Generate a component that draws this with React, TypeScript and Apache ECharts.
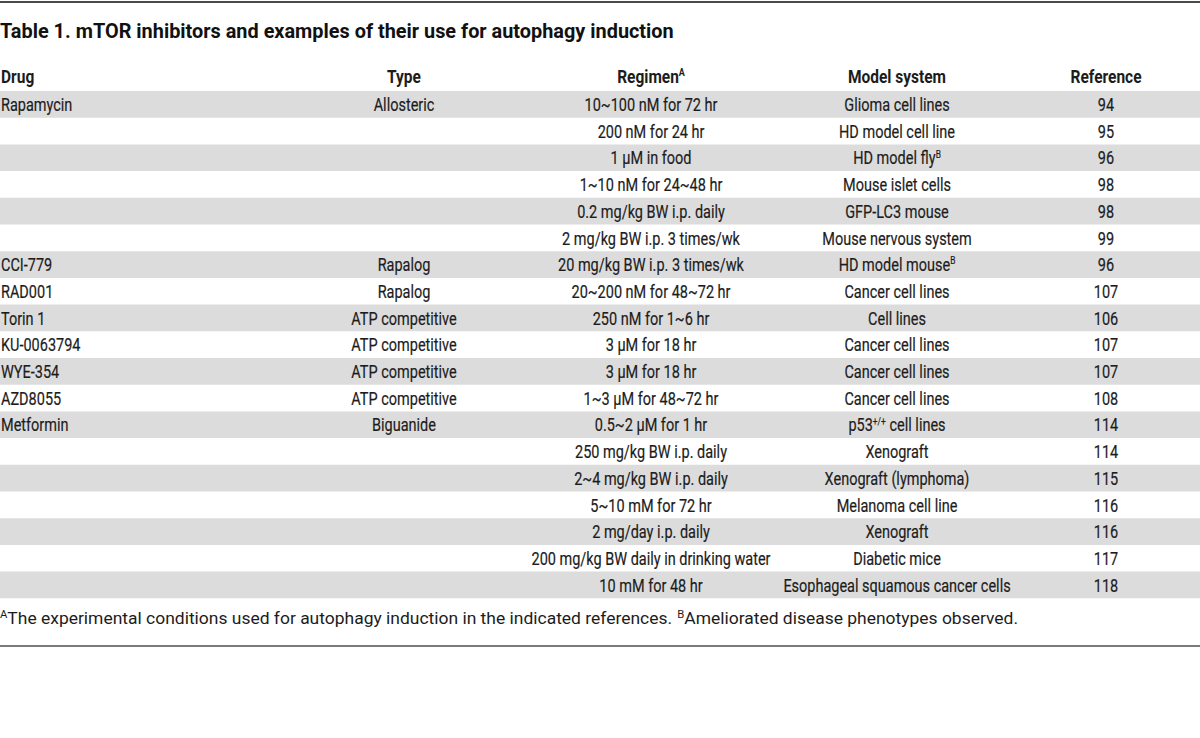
import React, { useEffect, useRef } from "react";
import * as echarts from "echarts";

const title = "Table 1. mTOR inhibitors and examples of their use for autophagy induction";
const headers = ["Drug", "Type", "Regimen^A", "Model system", "Reference"];
const drugs = ["Rapamycin", "", "", "", "", "", "CCI-779", "RAD001", "Torin 1", "KU-0063794", "WYE-354", "AZD8055", "Metformin", "", "", "", "", "", ""];
const types = ["Allosteric", "", "", "", "", "", "Rapalog", "Rapalog", "ATP competitive", "ATP competitive", "ATP competitive", "ATP competitive", "Biguanide", "", "", "", "", "", ""];
const regimens = [
  "10~100 nM for 72 hr",
  "200 nM for 24 hr",
  "1 μM in food",
  "1~10 nM for 24~48 hr",
  "0.2 mg/kg BW i.p. daily",
  "2 mg/kg BW i.p. 3 times/wk",
  "20 mg/kg BW i.p. 3 times/wk",
  "20~200 nM for 48~72 hr",
  "250 nM for 1~6 hr",
  "3 μM for 18 hr",
  "3 μM for 18 hr",
  "1~3 μM for 48~72 hr",
  "0.5~2 μM for 1 hr",
  "250 mg/kg BW i.p. daily",
  "2~4 mg/kg BW i.p. daily",
  "5~10 mM for 72 hr",
  "2 mg/day i.p. daily",
  "200 mg/kg BW daily in drinking water",
  "10 mM for 48 hr",
];
const models = [
  "Glioma cell lines",
  "HD model cell line",
  "HD model fly^B",
  "Mouse islet cells",
  "GFP-LC3 mouse",
  "Mouse nervous system",
  "HD model mouse^B",
  "Cancer cell lines",
  "Cell lines",
  "Cancer cell lines",
  "Cancer cell lines",
  "Cancer cell lines",
  "p53^+/+ cell lines",
  "Xenograft",
  "Xenograft (lymphoma)",
  "Melanoma cell line",
  "Xenograft",
  "Diabetic mice",
  "Esophageal squamous cancer cells",
];
const references = ["94", "95", "96", "98", "98", "99", "96", "107", "106", "107", "107", "108", "114", "114", "115", "116", "116", "117", "118"];
const footnote = "^AThe experimental conditions used for autophagy induction in the indicated references. ^BAmeliorated disease phenotypes observed.";

const toRich = (s: string) => s.replace(/\^([^\s]+?)(?=\s|$|[A-Z][a-z])/g, "{s|$1}");
const plain = (s: string) => s.replace(/\^([^\s]+?)(?=\s|$|[A-Z][a-z])/g, "");

function measure(text: string, font: string) {
  const c = document.createElement("canvas").getContext("2d")!;
  c.font = font;
  return c.measureText(text).width;
}

export default function App() {
  const ref = useRef<HTMLDivElement>(null);
  useEffect(() => {
    document.body.style.margin = "0";
    const chart = echarts.init(ref.current!, null, { renderer: "svg" });
    const W = 1200;
    const rowTop = 91;
    const rowH = 26.7;
    const colX = [1, 404, 651, 897, 1106];
    const font = "Roboto, 'Noto Sans', sans-serif";
    const textColor = "#1c1c1c";
    const bodySize = 19;
    const titleSize = 20;
    const footSize = 17;
    const bf = `${bodySize}px ${font}`;
    const bodyScale =
      (221 / measure("Esophageal squamous cancer cells", bf) + 246 / measure("200 mg/kg BW daily in drinking water", bf)) / 2;
    const headScale = 98 / measure("Model system", `bold ${bodySize}px ${font}`);
    const titleScale = 674 / measure(title, `bold ${titleSize}px ${font}`);
    const footScale = 1004 / measure(plain(footnote), `${footSize}px ${font}`);
    const supStyle = (size: number, weight: any) => ({
      s: { fontSize: size, fontFamily: font, fontWeight: weight, fill: textColor, verticalAlign: "top", lineHeight: 12 },
    });
    const els: any[] = [];
    els.push({ type: "rect", shape: { x: 0, y: 1, width: W, height: 2 }, style: { fill: "#4a4a4a" } });
    els.push({
      type: "text", x: 0, y: 31, scaleX: titleScale,
      style: { text: title, fontFamily: font, fontWeight: "bold", fontSize: titleSize, fill: "#111", verticalAlign: "middle" },
    });
    headers.forEach((h, c) => {
      els.push({
        type: "text", x: colX[c], y: 76, scaleX: headScale,
        style: {
          text: toRich(h), fontFamily: font, fontWeight: "bold", fontSize: bodySize, fill: textColor,
          align: c === 0 ? "left" : "center", verticalAlign: "middle",
          rich: supStyle(11, "bold"),
        },
      });
    });
    regimens.forEach((_, i) => {
      if (i % 2 === 0) {
        els.push({ type: "rect", shape: { x: 0, y: rowTop + i * rowH, width: W, height: rowH }, style: { fill: "#dcdcdc" }, z: -1 });
      }
    });
    const cols = [drugs, types, regimens, models, references];
    regimens.forEach((_, i) => {
      const cy = rowTop + i * rowH + rowH / 2;
      cols.forEach((col, c) => {
        const v = col[i];
        if (!v) return;
        els.push({
          type: "text", x: colX[c], y: cy, scaleX: bodyScale,
          style: {
            text: toRich(v), fontFamily: font, fontSize: bodySize, fill: textColor,
            stroke: textColor, lineWidth: 0.2,
            align: c === 0 ? "left" : "center", verticalAlign: "middle",
            rich: supStyle(11, "normal"),
          },
        });
      });
    });
    els.push({
      type: "text", x: 0, y: 618, scaleX: footScale,
      style: {
        text: toRich(footnote), fontFamily: font, fontSize: footSize, fill: textColor,
        align: "left", verticalAlign: "middle",
        rich: supStyle(11, "normal"),
      },
    });
    els.push({ type: "rect", shape: { x: 0, y: 645, width: W, height: 2 }, style: { fill: "#7a7a7a" } });

    chart.setOption({ animation: false, graphic: { elements: els } });
    return () => chart.dispose();
  }, []);
  return <div ref={ref} style={{ position: "absolute", left: 0, top: 0, width: 1200, height: 738, background: "#fff" }} />;
}
